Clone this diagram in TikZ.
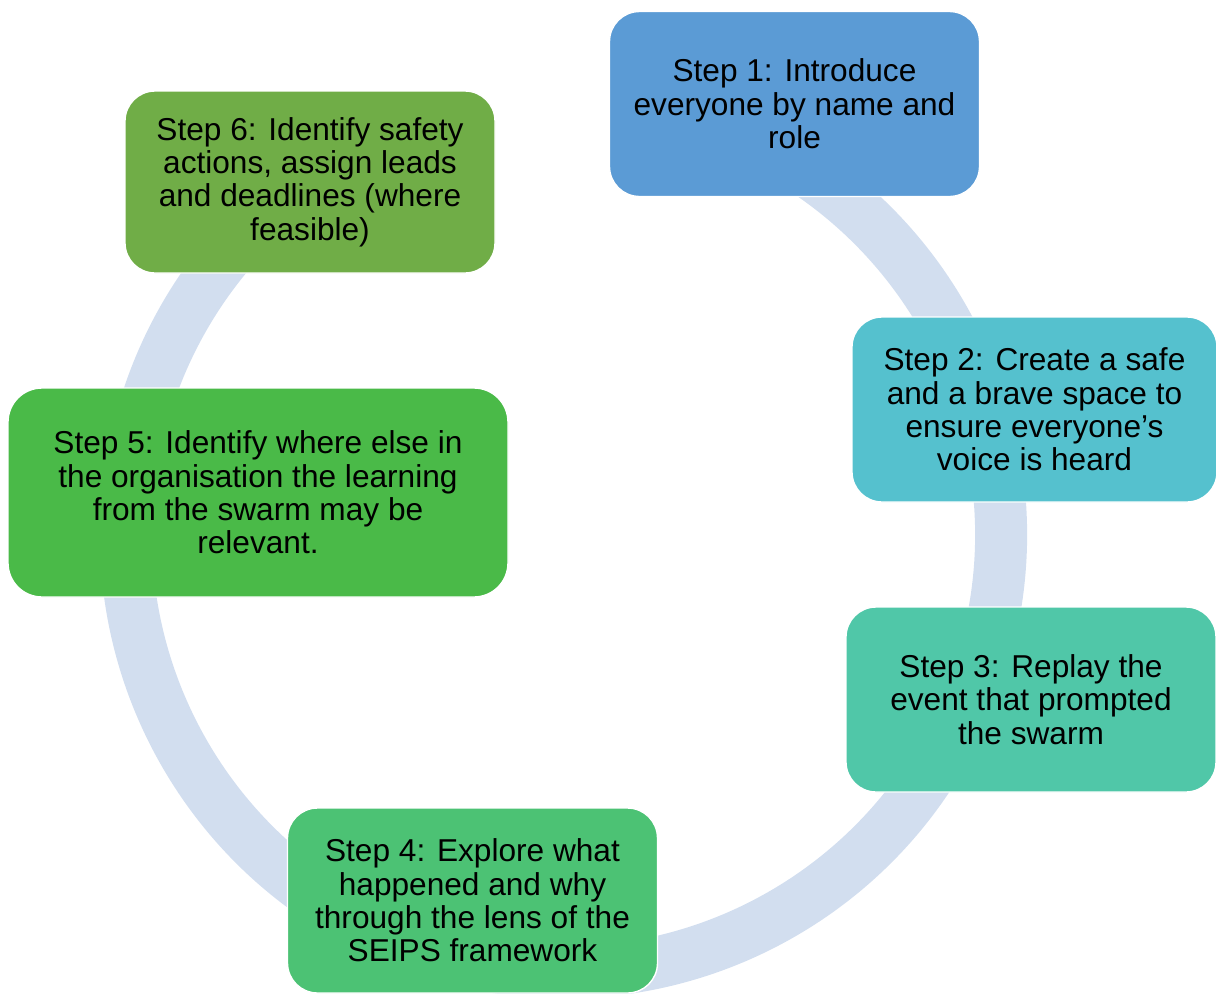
\documentclass[tikz,border=0pt]{standalone}
\usepackage{fontspec}
\setmainfont{Liberation Sans}
\definecolor{ringblue}{HTML}{D2DEEF}
\definecolor{stepone}{HTML}{5B9BD5}
\definecolor{steptwo}{HTML}{55C1CE}
\definecolor{stepthree}{HTML}{50C7A8}
\definecolor{stepfour}{HTML}{4CC274}
\definecolor{stepfive}{HTML}{4ABA48}
\definecolor{stepsix}{HTML}{70AD47}

\begin{document}
\begin{tikzpicture}[every node/.style={font=\fontsize{18}{19}\selectfont, align=center},
		stepbox/.style={draw=white, line width=0.8pt, rounded corners=0.6cm, minimum width=7.4cm, minimum height=3.7cm, inner sep=2pt},
		ring/.style={draw=ringblue, line width=1.04cm}]
			\useasboundingbox (0,0) rectangle (24.32,-19.88);
			
			% background cycle, open between step 6 and step 1
			\coordinate (hub) at (11.27,-10.70);
			\draw[ring] (hub) ++(72:8.75cm) arc[start angle=72, end angle=-251, radius=8.75cm];
			
			\node[stepbox, fill=stepone] (s1) at (15.89,-2.08) {Step 1: Introduce\\everyone by name and\\role};
			\node[stepbox, fill=steptwo, minimum width=7.3cm] (s2) at (20.69,-8.19) {Step 2: Create a safe\\and a brave space to\\ensure everyone’s\\voice is heard};
			\node[stepbox, fill=stepthree] (s3) at (20.62,-13.99) {Step 3: Replay the\\event that prompted\\the swarm};
			\node[stepbox, fill=stepfour] (s4) at (9.45,-18.01) {Step 4: Explore what\\happened and why\\through the lens of the\\SEIPS framework};
			\node[stepbox, fill=stepfive, minimum width=10cm, minimum height=4.18cm, rounded corners=0.68cm] (s5) at (5.16,-9.85) {Step 5: Identify where else in\\the organisation the learning\\from the swarm may be\\relevant.};
			\node[stepbox, fill=stepsix, minimum height=3.64cm] (s6) at (6.20,-3.64) {Step 6: Identify safety\\actions, assign leads\\and deadlines (where\\feasible)};
		\end{tikzpicture}
\end{document}
